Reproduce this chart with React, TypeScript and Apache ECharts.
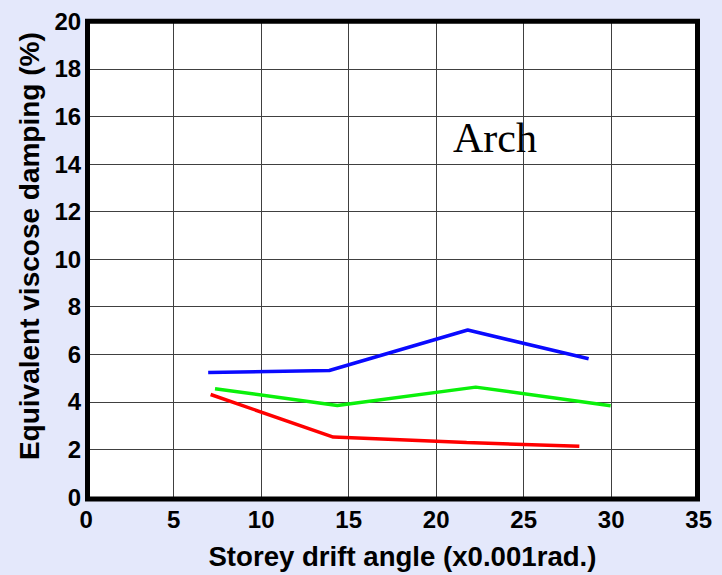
import React, { useEffect, useRef } from "react";
import * as echarts from "echarts";

const blueX = [6.97, 13.89, 21.8, 28.71];
const blueY = [5.23, 5.32, 7.02, 5.81];
const greenX = [7.36, 14.35, 22.26, 29.97];
const greenY = [4.55, 3.85, 4.62, 3.84];
const redX = [7.11, 14.12, 21.74, 28.18];
const redY = [4.31, 2.52, 2.29, 2.13];
const xTitle = "Storey drift angle (x0.001rad.)";
const yTitle = "Equivalent viscose damping (%)";
const label = "Arch";

const pairs = (xs: number[], ys: number[]) => xs.map((x, i) => [x, ys[i]]);

export default function App() {
  const ref = useRef<HTMLDivElement>(null);
  useEffect(() => {
    const chart = echarts.init(ref.current!, null, { renderer: "svg" });
    const fam = "'Liberation Sans', Arial, sans-serif";
    const tick = { fontFamily: fam, fontWeight: "bold" as const, fontSize: 24, color: "#000" };
    const line = (data: number[][], color: string) => ({
      type: "line",
      data,
      symbol: "none",
      lineStyle: { color, width: 3.5 },
      z: 3,
    });
    chart.setOption({
      animation: false,
      backgroundColor: "#E4E8FB",
      grid: {
        left: 86.2,
        right: 23.3,
        top: 21.3,
        bottom: 76.5,
        show: true,
        backgroundColor: "#fff",
        borderWidth: 0,
      },
      xAxis: {
        type: "value",
        min: 0,
        max: 35,
        interval: 5,
        name: xTitle,
        nameLocation: "middle",
        nameGap: 45,
        nameTextStyle: { fontFamily: fam, fontWeight: "bold", fontSize: 27.6, color: "#000", padding: [0, 0, 0, 20] },
        axisLine: { show: false },
        axisTick: { show: false },
        axisLabel: { ...tick, margin: 10 },
        splitLine: { show: true, lineStyle: { color: "#404040", width: 1 } },
      },
      yAxis: {
        type: "value",
        min: 0,
        max: 20,
        interval: 2,
        name: yTitle,
        nameLocation: "middle",
        nameGap: 41,
        nameTextStyle: { fontFamily: fam, fontWeight: "bold", fontSize: 28, color: "#000", padding: [0, 0, 0, 26] },
        axisLine: { show: false },
        axisTick: { show: false },
        axisLabel: { ...tick, margin: 5 },
        splitLine: { show: true, lineStyle: { color: "#404040", width: 1 } },
      },
      graphic: [
        {
          type: "rect",
          shape: { x: 87.5, y: 21.3, width: 610, height: 477.7 },
          style: { fill: "none", stroke: "#000", lineWidth: 5 },
          z: 10,
        },
        {
          type: "text",
          left: 453,
          top: 117,
          style: { text: label, font: "42px 'Liberation Serif', 'Times New Roman', serif", fill: "#000" },
          z: 10,
        },
      ],
      series: [
        line(pairs(blueX, blueY), "#0A0AFF"),
        line(pairs(greenX, greenY), "#0AF00A"),
        line(pairs(redX, redY), "#FF0000"),
      ],
    });
    return () => chart.dispose();
  }, []);
  return <div ref={ref} style={{ width: 722, height: 575, position: "absolute", left: 0, top: 0 }} />;
}
